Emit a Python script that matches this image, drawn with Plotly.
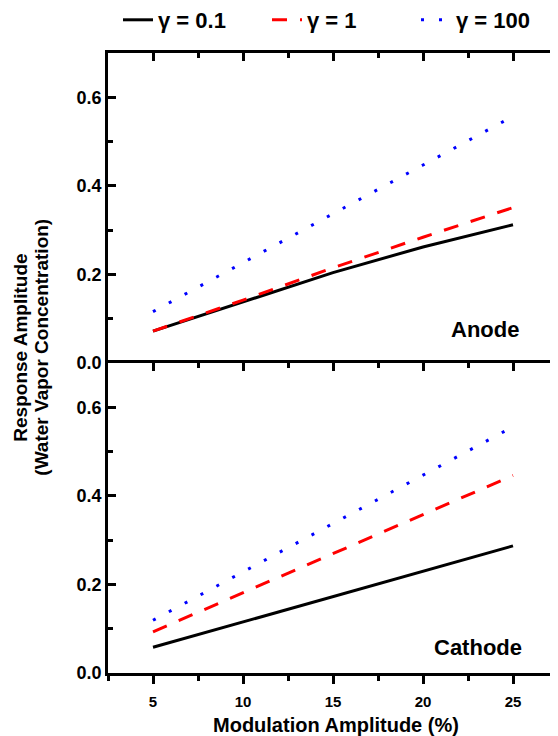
import plotly.graph_objects as go

# ---- data ----
modulation = [5, 10, 15, 20, 25]
series_names = ["γ = 0.1", "γ = 1", "γ = 100"]
anode_g01 = [0.072, 0.138, 0.204, 0.262, 0.312]
anode_g1 = [0.072, 0.142, 0.215, 0.284, 0.351]
anode_g100 = [0.116, 0.227, 0.337, 0.447, 0.557]
cathode_g01 = [0.058, 0.115, 0.172, 0.230, 0.287]
cathode_g1 = [0.093, 0.181, 0.269, 0.358, 0.446]
cathode_g100 = [0.119, 0.228, 0.337, 0.447, 0.556]
y_ticks = [0.0, 0.2, 0.4, 0.6]
x_ticks = [5, 10, 15, 20, 25]

colors = ["#000000", "#ff0000", "#0000ff"]
dashes = ["solid", "15px,13px", "3px,15px"]
FONT = "Liberation Sans"

fig = go.Figure()

for vals, name, c, d in zip([anode_g01, anode_g1, anode_g100], series_names, colors, dashes):
    fig.add_trace(go.Scatter(x=modulation, y=vals, mode="lines", name=name,
                             line=dict(color=c, width=3, dash=d),
                             xaxis="x2", yaxis="y2", legendgroup=name, showlegend=True))
for vals, name, c, d in zip([cathode_g01, cathode_g1, cathode_g100], series_names, colors, dashes):
    fig.add_trace(go.Scatter(x=modulation, y=vals, mode="lines", name=name,
                             line=dict(color=c, width=3, dash=d),
                             xaxis="x", yaxis="y", legendgroup=name, showlegend=False))
# dummy trace for the overlay axis drawing the top border of the lower panel
fig.add_trace(go.Scatter(x=[None], y=[None], xaxis="x3", yaxis="y", showlegend=False,
                         hoverinfo="skip"))

xr = [2.5, 27.5]
yr = [0, 0.7]
lw = 2.5

common_y = dict(range=yr, tickvals=y_ticks, ticktext=[f"{v:.1f}" for v in y_ticks],
                ticks="inside", ticklen=8, tickwidth=lw, tickcolor="black",
                showline=True, linewidth=lw, linecolor="black", mirror="ticks",
                showgrid=False, zeroline=False, automargin=False,
                tickfont=dict(family=FONT, size=18, color="black", weight="bold"),
                minor=dict(dtick=0.1, tick0=0, ticks="inside", ticklen=5, tickwidth=lw,
                           tickcolor="black", showgrid=False),
                ticklabelstandoff=0)

fig.update_layout(
    width=558, height=736,
    margin=dict(l=100, r=8, t=45, b=71, autoexpand=False),
    paper_bgcolor="white", plot_bgcolor="white",
    showlegend=True,
    legend=dict(orientation="h", xref="container", yref="container",
                x=110 / 558, xanchor="left", y=1 - 12 / 736, yanchor="middle",
                font=dict(family=FONT, size=22, color="black", weight="bold"),
                entrywidth=104, entrywidthmode="pixels",
                bgcolor="rgba(0,0,0,0)", traceorder="normal"),
    xaxis=dict(range=xr, domain=[0, 1], anchor="y", tickvals=x_ticks,
               ticks="outside", ticklen=8, tickwidth=lw, tickcolor="black",
               showline=True, linewidth=lw, linecolor="black", showgrid=False,
               zeroline=False, automargin=False, ticklabelstandoff=5,
               tickfont=dict(family=FONT, size=15, color="black", weight="bold"),
               minor=dict(dtick=2.5, tick0=0, ticks="outside", ticklen=5, tickwidth=lw,
                          tickcolor="black", showgrid=False)),
    xaxis3=dict(range=xr, overlaying="x", anchor="y", side="top", tickvals=x_ticks,
                ticks="inside", ticklen=8, tickwidth=lw, tickcolor="black",
                showline=True, linewidth=lw, linecolor="black", showgrid=False,
                zeroline=False, showticklabels=False, automargin=False,
                minor=dict(dtick=2.5, tick0=0, ticks="inside", ticklen=5, tickwidth=lw,
                           tickcolor="black", showgrid=False)),
    xaxis2=dict(range=xr, domain=[0, 1], anchor="y2", side="top", tickvals=x_ticks,
                ticks="inside", ticklen=8, tickwidth=lw, tickcolor="black",
                showline=True, linewidth=lw, linecolor="black", mirror=False,
                showgrid=False, zeroline=False, showticklabels=False, automargin=False,
                minor=dict(dtick=2.5, tick0=0, ticks="inside", ticklen=5, tickwidth=lw,
                           tickcolor="black", showgrid=False)),
    yaxis=dict(domain=[0, 0.5], anchor="x", **common_y),
    yaxis2=dict(domain=[0.5, 1], anchor="x2", **common_y),
)

ann_font = dict(family=FONT, color="black", weight="bold")
fig.add_annotation(text="Anode", xref="paper", yref="paper", x=0.918, y=0.5537,
                   xanchor="right", yanchor="middle", showarrow=False,
                   font=dict(size=22, **ann_font))
fig.add_annotation(text="Cathode", xref="paper", yref="paper", x=0.924, y=0.0408,
                   xanchor="right", yanchor="middle", showarrow=False,
                   font=dict(size=22, **ann_font))
fig.add_annotation(text="Modulation Amplitude (%)", xref="paper", yref="paper",
                   x=0.506, y=-0.0834, xanchor="center", yanchor="middle",
                   showarrow=False, font=dict(size=20, **ann_font))
fig.add_annotation(text="Response Amplitude", xref="paper", yref="paper",
                   x=(21 - 108) / 450, y=0.5247, xanchor="center", yanchor="middle",
                   textangle=-90, showarrow=False, font=dict(size=19, **ann_font))
fig.add_annotation(text="(Water Vapor Concentration)", xref="paper", yref="paper",
                   x=(42 - 108) / 450, y=0.5247, xanchor="center", yanchor="middle",
                   textangle=-90, showarrow=False, font=dict(size=19, **ann_font))

fig.write_html("out.html")
